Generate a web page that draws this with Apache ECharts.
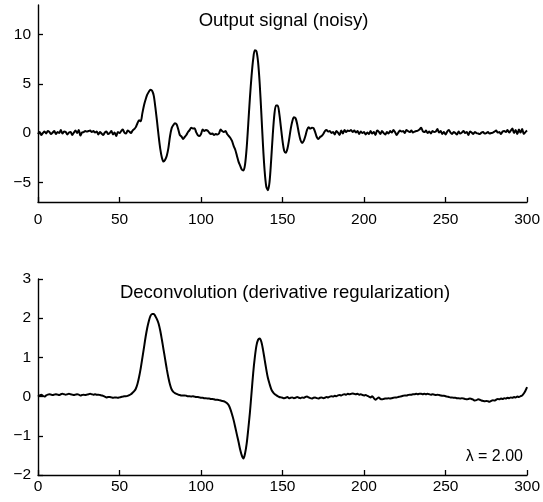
<!DOCTYPE html>
<html>
<head>
<meta charset="utf-8">
<script src="https://cdn.jsdelivr.net/npm/echarts@6/dist/echarts.min.js"></script>
<style>
html,body{margin:0;padding:0;background:#fff;}
#c{width:543px;height:502px;}
</style>
</head>
<body>
<div id="c"></div>
<script>
// Top panel: noisy output signal, sample index 0..300
const outputSignal = [
 -0.1, 0.1, -0.2, 0.0, 0.15, -0.05, 0.2, 0.1, -0.1, 0.05,
 0.2, -0.1, 0.1, 0.0, 0.3, -0.05, 0.15, 0.1, -0.15, 0.05,
 0.1, -0.2, 0.05, 0.25, 0.0, 0.3, -0.25, 0.05, 0.1, 0.2,
 0.15, 0.2, 0.25, 0.1, 0.2, 0.05, 0.15, -0.15, 0.1, -0.05,
 -0.2, 0.05, 0.15, -0.1, 0.0, 0.2, -0.15, 0.05, -0.3, 0.1,
 0.0, 0.2, 0.35, 0.05, -0.05, 0.25, 0.15, 0.0, 0.25, 0.4,
 0.6, 1.0, 1.3, 1.2, 2.0, 2.8, 3.4, 3.9, 4.2, 4.4,
 4.3, 3.8, 2.6, 1.2, -0.3, -1.6, -2.5, -2.9, -2.7, -2.3,
 -1.5, -0.3, 0.5, 0.8, 1.0, 0.9, 0.4, -0.2, -0.35, -0.6,
 -0.4, -0.2, 0.1, 0.3, 0.55, 0.45, 0.5, 0.1, -0.2, -0.3,
 -0.1, 0.35, 0.2, 0.3, 0.25, 0.05, -0.1, -0.05, -0.2, -0.1,
 -0.15, -0.05, 0.35, 0.2, 0.1, 0.2, -0.1, -0.3, -0.5, -0.8,
 -1.3, -1.7, -2.3, -2.9, -3.3, -3.7, -3.8, -3.2, -1.5, 1.0,
 3.6, 5.8, 7.5, 8.4, 8.3, 7.2, 5.0, 2.0, -1.2, -3.8,
 -5.4, -5.8, -5.0, -2.8, -0.2, 1.9, 2.8, 2.8, 2.0, 0.6,
 -0.8, -1.8, -2.0, -1.6, -0.7, 0.4, 1.2, 1.6, 1.5, 0.9,
 0.0, -0.7, -1.0, -0.8, -0.3, 0.3, 0.6, 0.45, 0.55, 0.5,
 0.1, -0.4, -0.6, -0.4, -0.3, -0.1, 0.2, 0.3, 0.15, 0.2,
 0.0,
 0.1, -0.15, 0.2, 0.05, -0.2, 0.25, -0.05, 0.3, 0.1, 0.25,
 0.2, 0.3, 0.1, 0.25, 0.05, 0.2, -0.1, 0.15, 0.0, 0.1,
 -0.15, 0.05, -0.1, 0.2, -0.05, 0.1, -0.2, 0.25, 0.15, -0.1,
 0.2, 0.0, -0.15, 0.1, -0.05, 0.2, 0.05, 0.3, 0.1, -0.2,
 0.05, 0.25, 0.15, 0.2, 0.0, 0.3, 0.2, 0.1, 0.25, 0.05,
 0.15, 0.2, 0.25, 0.35, 0.55, 0.2, 0.1, 0.25, 0.0, 0.15,
 -0.05, 0.2, 0.1, 0.15, 0.4, 0.05, 0.2, -0.1, 0.1, -0.15,
 0.15, 0.3, 0.05, -0.1, 0.1, 0.0, -0.15, 0.15, -0.05, 0.05,
 0.2, 0.0, 0.1, -0.2, 0.15, 0.05, -0.1, 0.1, 0.0, -0.05,
 -0.1, 0.05, 0.1, -0.05, 0.0, 0.1, -0.05, 0.0, 0.05, 0.15,
 0.25, 0.05, 0.1, -0.1, 0.15, 0.2, 0.1, 0.3, 0.05, 0.25,
 0.45, 0.0, 0.3, -0.1, 0.35, 0.05, 0.4, -0.1, 0.1, 0.25
];

// Bottom panel: deconvolution result, sample index 0..300
const deconvolution = [
 0.0, 0.03, 0.05, 0.02, 0.0, 0.03, 0.05, 0.06, 0.05, 0.04,
 0.05, 0.06, 0.05, 0.04, 0.06, 0.07, 0.06, 0.05, 0.06, 0.07,
 0.06, 0.05, 0.04, 0.05, 0.06, 0.05, 0.03, 0.04, 0.05, 0.04,
 0.05, 0.06, 0.07, 0.06, 0.05, 0.06, 0.05, 0.05, 0.04, 0.03,
 0.02, 0.0, -0.02, -0.01, -0.01, -0.02, -0.03, -0.02, -0.02, -0.03,
 -0.02, -0.01, 0.0, 0.01, 0.01, 0.02, 0.04, 0.06, 0.1, 0.14,
 0.2, 0.32, 0.5, 0.72, 0.98, 1.25, 1.52, 1.75, 1.93, 2.06,
 2.11, 2.11, 2.05, 1.97, 1.86, 1.68, 1.45, 1.2, 0.95, 0.7,
 0.48, 0.3, 0.18, 0.12, 0.09, 0.07, 0.05, 0.04, 0.03, 0.03,
 0.03, 0.02, 0.01, 0.01, 0.0, 0.01, 0.0, -0.01, -0.01, -0.02,
 -0.03, -0.03, -0.04, -0.04, -0.05, -0.05, -0.06, -0.06, -0.07, -0.08,
 -0.08, -0.09, -0.1, -0.11, -0.12, -0.14, -0.17, -0.22, -0.32, -0.45,
 -0.6, -0.78, -0.97, -1.15, -1.35, -1.5, -1.58, -1.45, -1.2, -0.82,
 -0.4, 0.1, 0.6, 1.0, 1.3, 1.45, 1.48, 1.4, 1.2, 0.95,
 0.7, 0.48, 0.33, 0.2, 0.12, 0.07, 0.04, 0.01, -0.01, -0.02,
 -0.03,
 -0.04, -0.03, -0.01, -0.04, -0.03, -0.02, -0.04, -0.03, -0.01, -0.03,
 -0.04, -0.02, -0.03, -0.01, 0.0, -0.02, -0.04, -0.05, -0.03, -0.02,
 -0.04, -0.05, -0.03, -0.02, -0.04, -0.03, -0.01, -0.02, 0.0, 0.01,
 0.0, 0.02, 0.01, 0.03, 0.04, 0.03, 0.05, 0.06, 0.05, 0.07,
 0.06, 0.07, 0.08, 0.07, 0.06, 0.07, 0.05, 0.06, 0.04, 0.03,
 0.04, 0.02, 0.0, -0.02, 0.01, -0.04, -0.08, -0.05, -0.02, -0.06,
 -0.07, -0.06, -0.05, -0.05, -0.04, -0.05, -0.04, -0.03, -0.02, -0.02,
 -0.01, 0.0, 0.01, 0.02, 0.03, 0.03, 0.04, 0.05, 0.05, 0.06,
 0.06, 0.07, 0.06, 0.07, 0.07, 0.06, 0.07, 0.06, 0.07, 0.06,
 0.05, 0.06, 0.05, 0.04, 0.05, 0.04, 0.03, 0.02, 0.02, 0.01,
 0.0, -0.01, -0.02, -0.02, -0.03, -0.03, -0.04, -0.04, -0.05, -0.04,
 -0.05, -0.06, -0.07, -0.06, -0.05, -0.06, -0.08, -0.1, -0.09, -0.07,
 -0.08, -0.1, -0.11, -0.12, -0.11, -0.12, -0.13, -0.11, -0.09, -0.1,
 -0.08, -0.06, -0.07, -0.05, -0.06, -0.04, -0.05, -0.03, -0.04, -0.02,
 -0.03, -0.01, -0.02, 0.0, -0.01, 0.01, 0.03, 0.08, 0.15, 0.24
];

const xTicks = [0, 50, 100, 150, 200, 250, 300];
const topYTicks = [-5, 0, 5, 10];
const bottomYTicks = [-2, -1, 0, 1, 2, 3];
const topTitle = 'Output signal (noisy)';
const bottomTitle = 'Deconvolution (derivative regularization)';
const lambdaLabel = 'λ = 2.00';

const FONT = '"Liberation Sans", Arial, Helvetica, sans-serif';
const fmt = v => String(v).replace('-', '\u2212');

function xAxisCfg(gi, margin) {
  return {
    gridIndex: gi, type: 'value', min: xTicks[0], max: xTicks[xTicks.length - 1], interval: 50,
    axisLine: { show: true, onZero: false, lineStyle: { color: '#000', width: 1.4 } },
    axisTick: { show: true, inside: true, length: 5, lineStyle: { color: '#000', width: 1.3 } },
    axisLabel: { color: '#000', fontSize: 15.5, fontFamily: FONT, margin: margin, formatter: fmt },
    splitLine: { show: false }
  };
}
function yAxisCfg(gi, min, max, ticks) {
  return {
    gridIndex: gi, type: 'value', min: min, max: max,
    axisLine: { show: true, onZero: false, lineStyle: { color: '#000', width: 1.4 } },
    axisTick: { show: true, inside: true, length: 5, customValues: ticks, lineStyle: { color: '#000', width: 1.3 } },
    axisLabel: { color: '#000', fontSize: 15.5, fontFamily: FONT, margin: 7, customValues: ticks, formatter: fmt },
    splitLine: { show: false }
  };
}

const chart = echarts.init(document.getElementById('c'), null, { renderer: 'canvas' });
chart.setOption({
  animation: false,
  backgroundColor: '#fff',
  grid: [
    { left: 38, right: 14, top: 5, height: 197 },
    { left: 38, right: 14, top: 279, height: 196 }
  ],
  xAxis: [xAxisCfg(0, 10), xAxisCfg(1, 4)],
  yAxis: [yAxisCfg(0, -7, 13, topYTicks), yAxisCfg(1, -2, 3, bottomYTicks)],
  graphic: [
    { type: 'text', x: 283.5, y: 21, style: { text: topTitle, font: '18.5px ' + FONT, fill: '#000', textAlign: 'center', textVerticalAlign: 'middle' } },
    { type: 'text', x: 285, y: 293, style: { text: bottomTitle, font: '18.5px ' + FONT, fill: '#000', textAlign: 'center', textVerticalAlign: 'middle' } },
    { type: 'text', x: 523, y: 457, style: { text: lambdaLabel, font: '16px ' + FONT, fill: '#000', textAlign: 'right', textVerticalAlign: 'middle' } }
  ],
  series: [
    { type: 'line', xAxisIndex: 0, yAxisIndex: 0, showSymbol: false, symbol: 'none', smooth: 0.3,
      data: outputSignal.map((v, i) => [i, v]), lineStyle: { color: '#000', width: 2 } },
    { type: 'line', xAxisIndex: 1, yAxisIndex: 1, showSymbol: false, symbol: 'none', smooth: 0.3,
      data: deconvolution.map((v, i) => [i, v]), lineStyle: { color: '#000', width: 2 } }
  ]
});
</script>
</body>
</html>
